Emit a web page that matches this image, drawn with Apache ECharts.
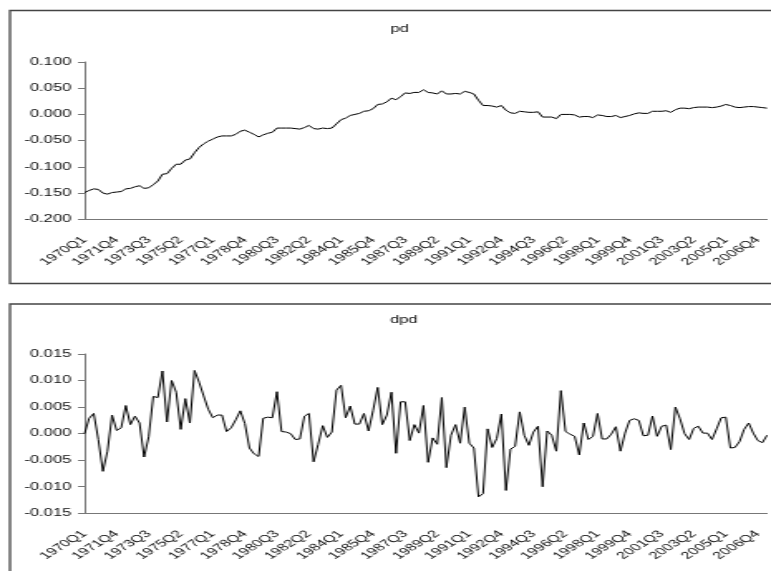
<!DOCTYPE html>
<html>
<head>
<meta charset="utf-8">
<title>pd / dpd</title>
<script src="https://cdn.jsdelivr.net/npm/echarts@6/dist/echarts.min.js"></script>
<style>
  html, body { margin: 0; padding: 0; background: #fff; overflow: hidden; }
  #wrap { width: 771px; height: 571px; overflow: hidden; }
  /* the chart is laid out on a narrow canvas and widened horizontally */
  #chart { width: 465px; height: 571px; transform: scaleX(1.658); transform-origin: 0 0; }
</style>
</head>
<body>
<div id="wrap"><div id="chart"></div></div>
<script>
// quarterly sample 1970Q1 .. 2007Q2
const firstYear = 1970;
const nQuarters = 150;
const quarters = [];
for (let i = 0; i < nQuarters; i++) {
  quarters.push((firstYear + Math.floor(i / 4)) + 'Q' + (i % 4 + 1));
}

// level series
const pd = [
  -0.149, -0.145, -0.142, -0.143, -0.150, -0.152, -0.149, -0.148, -0.147, -0.142,
  -0.141, -0.138, -0.136, -0.141, -0.140, -0.134, -0.127, -0.114, -0.113, -0.103,
  -0.095, -0.095, -0.087, -0.085, -0.073, -0.063, -0.056, -0.051, -0.047, -0.043,
  -0.041, -0.041, -0.041, -0.038, -0.032, -0.030, -0.034, -0.038, -0.043, -0.039,
  -0.036, -0.034, -0.026, -0.026, -0.026, -0.026, -0.027, -0.028, -0.025, -0.021,
  -0.027, -0.028, -0.026, -0.027, -0.026, -0.018, -0.010, -0.007, -0.002, 0.000,
  0.002, 0.006, 0.007, 0.011, 0.019, 0.020, 0.024, 0.031, 0.028, 0.034,
  0.041, 0.040, 0.042, 0.042, 0.047, 0.042, 0.041, 0.039, 0.045, 0.039,
  0.039, 0.040, 0.039, 0.044, 0.042, 0.039, 0.027, 0.017, 0.017, 0.016,
  0.014, 0.017, 0.008, 0.003, 0.002, 0.006, 0.005, 0.004, 0.004, 0.005,
  -0.005, -0.005, -0.005, -0.008, 0.000, 0.000, 0.000, -0.001, -0.005, -0.004,
  -0.004, -0.006, -0.001, -0.002, -0.004, -0.004, -0.002, -0.006, -0.004, -0.002,
  0.001, 0.003, 0.002, 0.002, 0.006, 0.006, 0.006, 0.007, 0.004, 0.009,
  0.012, 0.012, 0.011, 0.013, 0.014, 0.014, 0.014, 0.013, 0.014, 0.016,
  0.019, 0.017, 0.014, 0.013, 0.014, 0.015, 0.015, 0.014, 0.013, 0.012
];

// first difference series
const dpd = [
  0.0000, 0.0029, 0.0038, -0.0011, -0.0071, -0.0033, 0.0035, 0.0006, 0.0011, 0.0053,
  0.0017, 0.0033, 0.0020, -0.0044, -0.0006, 0.0070, 0.0068, 0.0118, 0.0022, 0.0100,
  0.0078, 0.0008, 0.0066, 0.0020, 0.0119, 0.0097, 0.0071, 0.0046, 0.0030, 0.0035,
  0.0035, 0.0004, 0.0011, 0.0026, 0.0043, 0.0019, -0.0027, -0.0038, -0.0043, 0.0029,
  0.0031, 0.0030, 0.0079, 0.0004, 0.0003, 0.0000, -0.0011, -0.0010, 0.0033, 0.0038,
  -0.0053, -0.0020, 0.0015, -0.0007, 0.0003, 0.0082, 0.0091, 0.0030, 0.0052, 0.0018,
  0.0018, 0.0038, 0.0005, 0.0044, 0.0087, 0.0017, 0.0035, 0.0078, -0.0037, 0.0060,
  0.0060, -0.0013, 0.0017, 0.0001, 0.0053, -0.0054, -0.0008, -0.0020, 0.0068, -0.0064,
  -0.0003, 0.0017, -0.0018, 0.0050, -0.0018, -0.0027, -0.0119, -0.0113, 0.0009, -0.0026,
  -0.0009, 0.0037, -0.0107, -0.0029, -0.0024, 0.0041, -0.0003, -0.0022, 0.0003, 0.0014,
  -0.0100, 0.0005, -0.0003, -0.0033, 0.0081, 0.0004, -0.0001, -0.0005, -0.0040, 0.0020,
  -0.0011, -0.0005, 0.0038, -0.0010, -0.0010, -0.0001, 0.0013, -0.0033, 0.0001, 0.0025,
  0.0028, 0.0025, -0.0004, -0.0003, 0.0033, -0.0005, 0.0014, 0.0016, -0.0030, 0.0050,
  0.0028, 0.0000, -0.0011, 0.0010, 0.0014, 0.0001, 0.0001, -0.0011, 0.0009, 0.0030,
  0.0031, -0.0027, -0.0026, -0.0015, 0.0008, 0.0020, 0.0001, -0.0013, -0.0017, -0.0003
];

const pdTicks = { min: -0.2, max: 0.1, step: 0.05 };
const dpdTicks = { min: -0.015, max: 0.015, step: 0.005 };

const FONT = '"Liberation Sans", Arial, sans-serif';
const AXIS_COLOR = '#777';

function fmt(v) {
  if (Math.abs(v) < 1e-9) return '0.000';
  return v.toFixed(3);
}

function xAxisFor(gridIndex) {
  return {
    type: 'category',
    gridIndex: gridIndex,
    data: quarters,
    boundaryGap: false,
    axisLine: { show: true, onZero: false, lineStyle: { color: AXIS_COLOR, width: 1 } },
    axisTick: { show: false },
    splitLine: { show: false },
    axisLabel: {
      interval: 6,
      rotate: 45,
      margin: 19,
      fontSize: 10,
      fontFamily: FONT,
      color: '#111'
    }
  };
}

function yAxisFor(gridIndex, t) {
  return {
    type: 'value',
    gridIndex: gridIndex,
    min: t.min,
    max: t.max,
    interval: t.step,
    axisLine: { show: true, lineStyle: { color: AXIS_COLOR, width: 1 } },
    axisTick: { show: true, length: 4, lineStyle: { color: AXIS_COLOR, width: 1 } },
    splitLine: { show: false },
    axisLabel: {
      margin: 8,
      fontSize: 10,
      fontFamily: FONT,
      color: '#111',
      formatter: fmt
    }
  };
}

const chart = echarts.init(document.getElementById('chart'));

chart.setOption({
  animation: false,
  backgroundColor: '#fff',
  title: [
    { text: 'pd', left: 236, top: 19, textAlign: 'center',
      textStyle: { fontSize: 10, fontWeight: 'normal', color: '#111', fontFamily: FONT } },
    { text: 'dpd', left: 238.5, top: 310, textAlign: 'center',
      textStyle: { fontSize: 10, fontWeight: 'normal', color: '#111', fontFamily: FONT } }
  ],
  graphic: [
    { type: 'rect', z: -1, silent: true,
      shape: { x: 6, y: 10.5, width: 470, height: 273 },
      style: { fill: 'none', stroke: '#444', lineWidth: 1.3 } },
    { type: 'rect', z: -1, silent: true,
      shape: { x: 6, y: 304, width: 470, height: 300 },
      style: { fill: 'none', stroke: '#444', lineWidth: 1.3 } }
  ],
  grid: [
    { left: 51, right: 2.4, top: 62, bottom: 351.7 },
    { left: 51, right: 2.4, top: 354, bottom: 57.7 }
  ],
  xAxis: [xAxisFor(0), xAxisFor(1)],
  yAxis: [yAxisFor(0, pdTicks), yAxisFor(1, dpdTicks)],
  series: [
    { name: 'pd', type: 'line', xAxisIndex: 0, yAxisIndex: 0, data: pd,
      showSymbol: false, lineStyle: { color: '#000', width: 1 } },
    { name: 'dpd', type: 'line', xAxisIndex: 1, yAxisIndex: 1, data: dpd,
      showSymbol: false, lineStyle: { color: '#000', width: 1 } }
  ]
});
</script>
</body>
</html>
